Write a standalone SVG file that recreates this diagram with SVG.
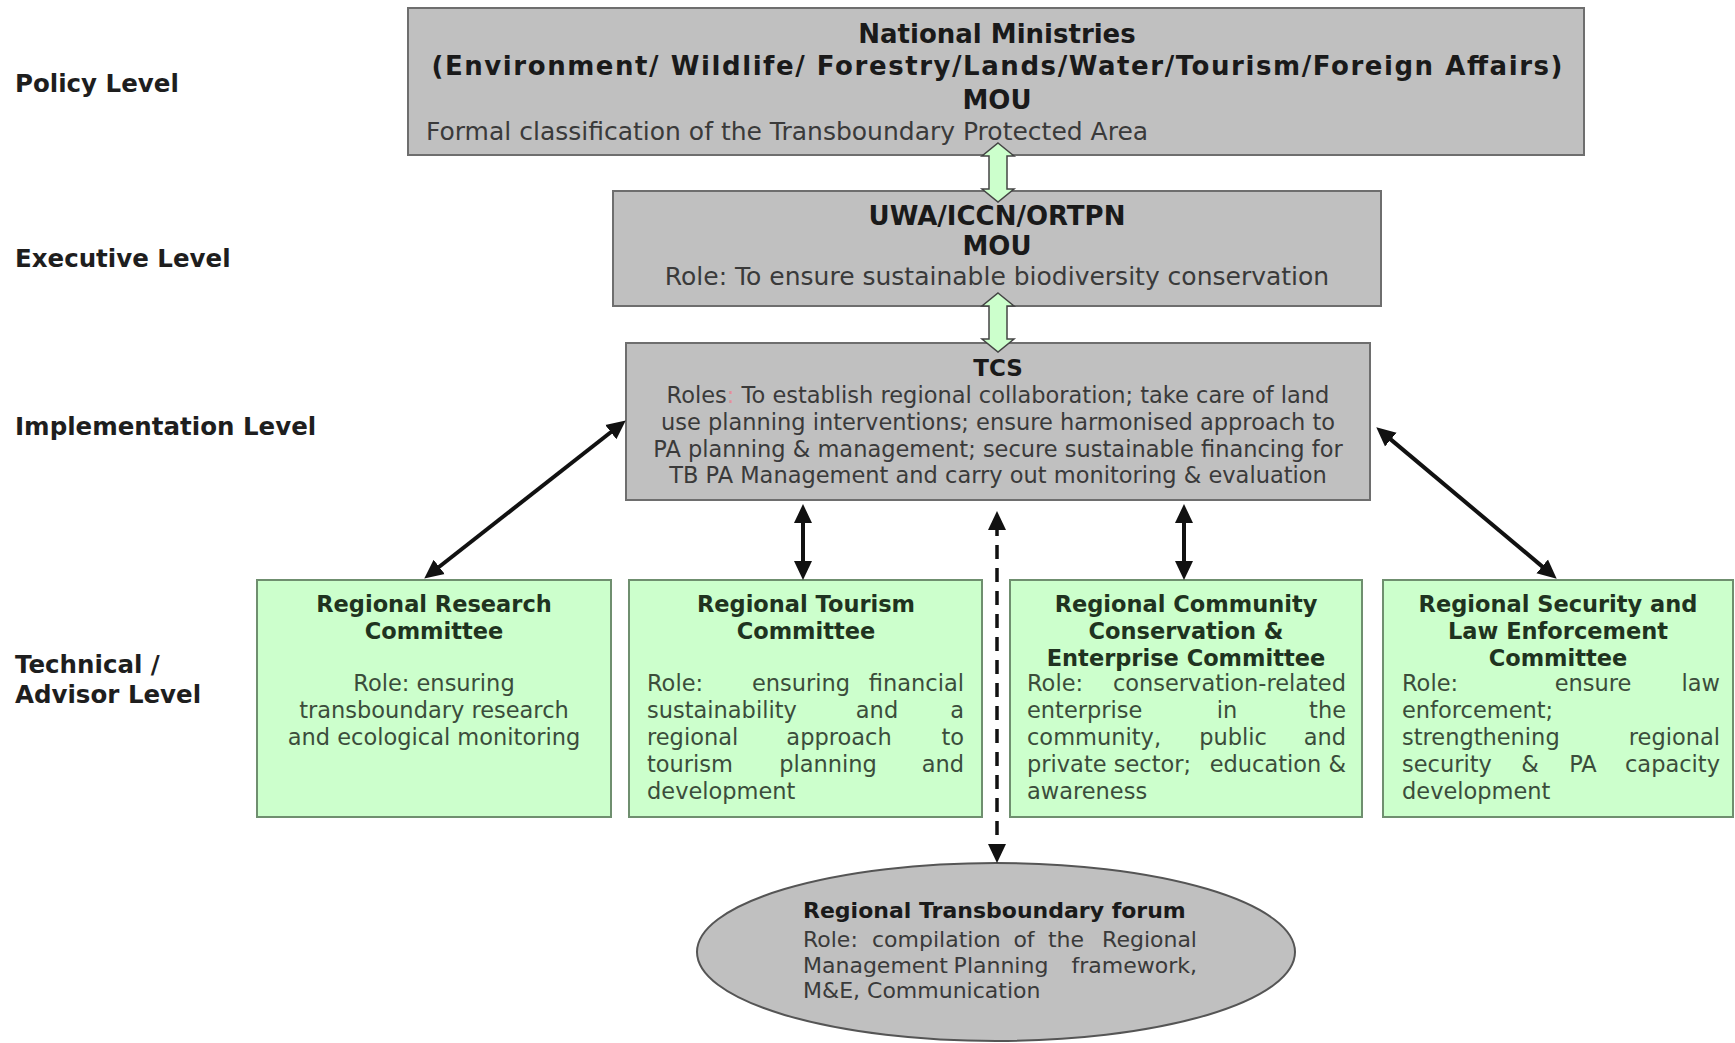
<svg xmlns="http://www.w3.org/2000/svg" width="1735" height="1043" viewBox="0 0 1735 1043">
<style>
  text { font-family: "DejaVu Sans", Verdana, sans-serif; }
  .lvl { font-size: 24.5px; font-weight: bold; fill: #1e1e1e; }
  .gbox { fill: #c0c0c0; stroke: #6e6e6e; stroke-width: 2; }
  .cbox { fill: #ccffcc; stroke: #6f8f6f; stroke-width: 2; }
  .gt { font-size: 26px; font-weight: bold; fill: #1a1a1a; text-anchor: middle; }
  .gr { font-size: 25px; fill: #3a3a3a; }
  .tr { font-size: 22.5px; fill: #3a3a3a; text-anchor: middle; }
  .ct { font-size: 22.5px; font-weight: bold; fill: #1f3320; text-anchor: middle; }
  .cb { font-size: 22.5px; fill: #3b4d3b; }
  .e { text-anchor: end; }
  .m { text-anchor: middle; }
  .et { font-size: 22px; font-weight: bold; fill: #1a1a1a; }
  .eb { font-size: 22px; fill: #3a3a3a; }
  .conn { stroke: #111; stroke-width: 4; fill: none; }
  .dash { stroke: #111; stroke-width: 3.5; fill: none; stroke-dasharray: 14 9; }
  .garrow { fill: #ccffcc; stroke: #444; stroke-width: 1.5; }
</style>
<defs>
  <marker id="ah" markerUnits="userSpaceOnUse" markerWidth="20" markerHeight="20" viewBox="0 0 20 20" refX="8" refY="10" orient="auto-start-reverse">
    <path d="M0,1 L19,10 L0,19 z" fill="#111"/>
  </marker>
</defs>
<rect width="1735" height="1043" fill="#ffffff"/>

<g id="level-labels">
  <text class="lvl" x="15" y="92">Policy Level</text>
  <text class="lvl" x="15" y="267">Executive Level</text>
  <text class="lvl" x="15" y="435">Implementation Level</text>
  <text class="lvl" x="15" y="673">Technical /</text>
  <text class="lvl" x="15" y="703">Advisor Level</text>
</g>

<g id="node-policy">
  <rect class="gbox" x="408" y="8" width="1176" height="147"/>
  <text class="gt" x="997" y="43">National Ministries</text>
  <text class="gt" x="997" y="75" textLength="1131" lengthAdjust="spacing">(Environment/ Wildlife/ Forestry/Lands/Water/Tourism/Foreign Affairs)</text>
  <text class="gt" x="997" y="109">MOU</text>
  <text class="gr" x="426" y="140">Formal classification of the Transboundary Protected Area</text>
</g>

<g id="node-executive">
  <rect class="gbox" x="613" y="191" width="768" height="115"/>
  <text class="gt" x="997" y="225">UWA/ICCN/ORTPN</text>
  <text class="gt" x="997" y="255">MOU</text>
  <text class="gr m" x="997" y="285">Role: To ensure sustainable biodiversity conservation</text>
</g>

<g id="node-tcs">
  <rect class="gbox" x="626" y="343" width="744" height="157"/>
  <text class="gt" x="998" y="376" style="font-size:23px">TCS</text>
  <text class="tr" x="998" y="403">Roles<tspan fill="#e0909a">:</tspan> To establish regional collaboration; take care of land</text>
  <text class="tr" x="998" y="430">use planning interventions; ensure harmonised approach to</text>
  <text class="tr" x="998" y="457">PA planning &amp; management; secure sustainable financing for</text>
  <text class="tr" x="998" y="483">TB PA Management and carry out monitoring &amp; evaluation</text>
</g>

<g id="node-research">
  <rect class="cbox" x="257" y="580" width="354" height="237"/>
  <text class="ct" x="434" y="612">Regional Research</text>
  <text class="ct" x="434" y="639">Committee</text>
  <text class="cb m" x="434" y="691">Role: ensuring</text>
  <text class="cb m" x="434" y="718">transboundary research</text>
  <text class="cb m" x="434" y="745">and ecological monitoring</text>
</g>

<g id="node-tourism">
  <rect class="cbox" x="629" y="580" width="353" height="237"/>
  <text class="ct" x="806" y="612">Regional Tourism</text>
  <text class="ct" x="806" y="639">Committee</text>
  <text class="cb" x="647" y="691">Role:</text>
  <text class="cb" x="752" y="691">ensuring</text>
  <text class="cb e" x="964" y="691">financial</text>
  <text class="cb" x="647" y="718">sustainability</text>
  <text class="cb m" x="877" y="718">and</text>
  <text class="cb e" x="964" y="718">a</text>
  <text class="cb" x="647" y="745">regional</text>
  <text class="cb m" x="839" y="745">approach</text>
  <text class="cb e" x="964" y="745">to</text>
  <text class="cb" x="647" y="772">tourism</text>
  <text class="cb m" x="828" y="772">planning</text>
  <text class="cb e" x="964" y="772">and</text>
  <text class="cb" x="647" y="799">development</text>
</g>

<g id="node-community">
  <rect class="cbox" x="1010" y="580" width="352" height="237"/>
  <text class="ct" x="1186" y="612">Regional Community</text>
  <text class="ct" x="1186" y="639">Conservation &amp;</text>
  <text class="ct" x="1186" y="666">Enterprise Committee</text>
  <text class="cb" x="1027" y="691">Role:</text>
  <text class="cb e" x="1346" y="691">conservation-related</text>
  <text class="cb" x="1027" y="718">enterprise</text>
  <text class="cb m" x="1227" y="718">in</text>
  <text class="cb e" x="1346" y="718">the</text>
  <text class="cb" x="1027" y="745">community,</text>
  <text class="cb m" x="1233" y="745">public</text>
  <text class="cb e" x="1346" y="745">and</text>
  <text class="cb" x="1027" y="772">private sector;</text>
  <text class="cb e" x="1346" y="772">education &amp;</text>
  <text class="cb" x="1027" y="799">awareness</text>
</g>

<g id="node-security">
  <rect class="cbox" x="1383" y="580" width="350" height="237"/>
  <text class="ct" x="1558" y="612">Regional Security and</text>
  <text class="ct" x="1558" y="639">Law Enforcement</text>
  <text class="ct" x="1558" y="666">Committee</text>
  <text class="cb" x="1402" y="691">Role:</text>
  <text class="cb m" x="1593" y="691">ensure</text>
  <text class="cb e" x="1720" y="691">law</text>
  <text class="cb" x="1402" y="718">enforcement;</text>
  <text class="cb" x="1402" y="745">strengthening</text>
  <text class="cb e" x="1720" y="745">regional</text>
  <text class="cb" x="1402" y="772">security</text>
  <text class="cb m" x="1530" y="772">&amp;</text>
  <text class="cb m" x="1583" y="772">PA</text>
  <text class="cb e" x="1720" y="772">capacity</text>
  <text class="cb" x="1402" y="799">development</text>
</g>

<g id="node-forum">
  <ellipse cx="996" cy="952" rx="299" ry="89" fill="#c0c0c0" stroke="#555" stroke-width="2"/>
  <text class="et" x="803" y="918">Regional Transboundary forum</text>
  <text class="eb" x="803" y="947">Role:</text>
  <text class="eb" x="872" y="947">compilation</text>
  <text class="eb m" x="1024" y="947">of</text>
  <text class="eb m" x="1066" y="947">the</text>
  <text class="eb e" x="1197" y="947">Regional</text>
  <text class="eb" x="803" y="973">Management</text>
  <text class="eb m" x="1001" y="973">Planning</text>
  <text class="eb e" x="1197" y="973">framework,</text>
  <text class="eb" x="803" y="998">M&amp;E, Communication</text>
</g>

<g id="connectors">
  <polygon class="garrow" points="998,143 1014,156 1007,156 1007,189 1014,189 998,202 982,189 989,189 989,156 982,156"/>
  <polygon class="garrow" points="998,293 1014,306 1007,306 1007,339 1014,339 998,352 982,339 989,339 989,306 982,306"/>
  <line class="conn" x1="432.9" y1="571.8" x2="617.1" y2="427.2" marker-start="url(#ah)" marker-end="url(#ah)"/>
  <line class="conn" x1="803" y1="515" x2="803" y2="569" marker-start="url(#ah)" marker-end="url(#ah)"/>
  <line class="dash" x1="997" y1="522" x2="997" y2="852" marker-start="url(#ah)" marker-end="url(#ah)"/>
  <line class="conn" x1="1184" y1="515" x2="1184" y2="569" marker-start="url(#ah)" marker-end="url(#ah)"/>
  <line class="conn" x1="1384.7" y1="434.4" x2="1548.3" y2="571.6" marker-start="url(#ah)" marker-end="url(#ah)"/>
</g>
</svg>
